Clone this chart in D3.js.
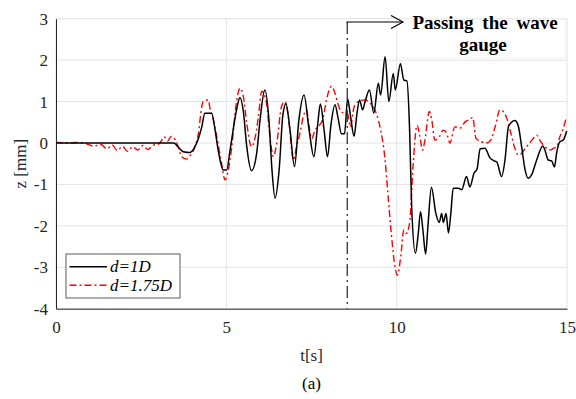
<!DOCTYPE html>
<html>
<head>
<meta charset="utf-8">
<script src="https://cdn.jsdelivr.net/npm/d3@7"></script>
<style>
  html, body { margin: 0; padding: 0; background: #fff; }
  svg { display: block; font-family: "Liberation Serif", "Times New Roman", serif; }
</style>
</head>
<body>
<svg id="chart" width="576" height="399"></svg>
<script>
// Surface elevation z [mm] against time t [s] for two gauge distances.
const xTicks = [0, 5, 10, 15];
const yTicks = [-4, -3, -2, -1, 0, 1, 2, 3];
const seriesNames = ["d=1D", "d=1.75D"];
const gaugeTime = 8.55;
const annotationLines = ["Passing the wave", "gauge"];

// d = 1D (black solid)
const t1D = [0, 1, 2, 3, 3.46, 3.58, 3.74, 3.93, 4.05, 4.18, 4.28, 4.37, 4.57, 4.67, 4.76, 4.91, 5.01, 5.11, 5.30, 5.40, 5.50, 5.60, 5.74, 5.89, 5.99, 6.13, 6.25, 6.34, 6.43, 6.55, 6.66, 6.75, 6.87, 7.00, 7.13, 7.28, 7.43, 7.57, 7.68, 7.76, 7.87, 7.97, 8.07, 8.19, 8.28, 8.38, 8.47, 8.56, 8.64, 8.75, 8.83, 8.91, 9.00, 9.07, 9.20, 9.33, 9.46, 9.53, 9.66, 9.77, 9.90, 9.96, 10.11, 10.21, 10.30, 10.38, 10.44, 10.55, 10.63, 10.70, 10.77, 10.85, 10.92, 11.02, 11.15, 11.25, 11.32, 11.37, 11.45, 11.52, 11.59, 11.66, 11.81, 11.91, 12.05, 12.15, 12.27, 12.36, 12.45, 12.59, 12.74, 12.86, 12.94, 13.08, 13.18, 13.28, 13.35, 13.47, 13.57, 13.67, 13.77, 13.86, 13.96, 14.11, 14.29, 14.35, 14.45, 14.55, 14.63, 14.70, 14.79, 14.89, 14.99];
const z1D = [0, 0, 0, 0, 0, -0.09, -0.21, -0.23, -0.13, 0.11, 0.39, 0.72, 0.72, 0.31, -0.17, -0.65, -0.65, -0.17, 0.80, 1.10, 0.76, -0.09, -0.67, -0.25, 0.56, 1.28, 0.56, -0.65, -1.33, -0.65, 0.68, 0.95, 0.31, -0.57, 0.56, 1.16, 0.31, -0.33, 0.43, 0.94, 0.31, -0.33, 0.43, 0.92, 0.60, 0.22, 0.22, 1.07, 0.68, 0.16, 0.68, 1.04, 0.80, 0.99, 1.28, 0.72, 1.44, 1.16, 2.08, 1.00, 1.68, 1.28, 1.91, 1.52, 1.50, 0.31, -1.54, -2.66, -2.22, -1.66, -2.10, -2.68, -1.98, -1.07, -1.70, -1.92, -1.70, -1.92, -1.70, -2.17, -1.70, -1.09, -1.09, -1.13, -0.81, -1.06, -0.73, -0.63, -0.14, -0.13, -0.36, -0.43, -0.46, -0.81, -0.41, 0.39, 0.48, 0.54, 0.41, -0.10, -0.65, -0.85, -0.77, -0.41, -0.07, -0.17, -0.41, -0.43, -0.58, -0.22, 0.03, 0.07, 0.29];

// d = 1.75D (red dash-dot)
const t175D = [0, 0.3, 0.6, 0.9, 1.1, 1.3, 1.5, 1.65, 1.8, 1.95, 2.1, 2.25, 2.4, 2.55, 2.7, 2.85, 3.0, 3.1, 3.18, 3.28, 3.38, 3.5, 3.57, 3.69, 3.84, 3.93, 4.08, 4.18, 4.28, 4.32, 4.47, 4.52, 4.62, 4.72, 4.86, 4.96, 5.06, 5.16, 5.28, 5.40, 5.50, 5.60, 5.74, 5.84, 5.94, 6.04, 6.18, 6.28, 6.38, 6.48, 6.62, 6.72, 6.82, 6.97, 7.06, 7.16, 7.26, 7.36, 7.41, 7.51, 7.60, 7.70, 7.85, 7.94, 8.09, 8.19, 8.27, 8.37, 8.46, 8.56, 8.64, 8.75, 8.87, 9.07, 9.22, 9.36, 9.51, 9.66, 9.75, 9.85, 9.95, 10.02, 10.12, 10.21, 10.29, 10.39, 10.48, 10.60, 10.68, 10.76, 10.83, 10.96, 11.03, 11.12, 11.25, 11.37, 11.47, 11.56, 11.71, 11.86, 12.01, 12.15, 12.23, 12.33, 12.49, 12.64, 12.76, 12.89, 13.03, 13.13, 13.23, 13.33, 13.47, 13.57, 13.67, 13.77, 13.86, 14.01, 14.11, 14.20, 14.35, 14.50, 14.60, 14.70, 14.79, 14.89, 14.97];
const z175D = [0.02, 0.0, 0.01, -0.02, -0.08, -0.03, -0.14, -0.05, -0.18, -0.08, -0.20, -0.09, -0.17, -0.06, -0.16, -0.05, -0.03, 0.06, 0.15, 0.05, 0.16, 0.08, -0.05, -0.33, -0.39, -0.31, -0.09, 0.23, 0.88, 1.00, 1.04, 0.84, 0.55, 0.15, -0.49, -0.89, -0.65, -0.09, 0.88, 1.32, 1.12, 0.47, -0.09, 0.11, 0.63, 1.25, 0.96, 0.15, -0.33, -0.01, 0.88, 1.00, 0.64, -0.41, -0.09, 0.23, 0.64, 0.80, 0.51, 0.11, 0.31, 0.39, 0.64, 1.04, 1.37, 1.20, 0.96, 0.76, 0.72, 0.70, 0.39, 0.87, 1.00, 1.04, 0.96, 0.80, 0.39, -0.41, -1.29, -2.25, -2.99, -3.19, -2.74, -2.10, -2.18, -1.86, -0.57, 0.43, 0.16, -0.17, 0.07, 0.76, 0.56, 0.07, 0.15, 0.31, 0.23, 0.00, 0.39, 0.36, 0.51, 0.57, 0.62, 0.11, 0.03, 0.00, 0.07, 0.39, 0.80, 0.76, 0.60, 0.31, -0.13, -0.29, -0.25, -0.13, -0.05, 0.11, 0.19, 0.07, -0.09, -0.17, -0.13, -0.09, 0.15, 0.35, 0.59];

const svg = d3.select("#chart");
const margin = { left: 56, right: 9, top: 18.7, bottom: 90.3 };
const W = 576, H = 399;
const x = d3.scaleLinear().domain([0, 15]).range([margin.left, W - margin.right]);
const y = d3.scaleLinear().domain([-4, 3]).range([H - margin.bottom, margin.top]);

// grid
const grid = svg.append("g").attr("stroke", "#e3e3e3").attr("stroke-width", 1);
grid.selectAll(".gx").data(xTicks).join("line")
  .attr("x1", d => x(d)).attr("x2", d => x(d))
  .attr("y1", y(-4)).attr("y2", y(3));
grid.selectAll(".gy").data(yTicks).join("line")
  .attr("x1", x(0)).attr("x2", x(15))
  .attr("y1", d => y(d)).attr("y2", d => y(d));

// axes (plain hyphen for negative labels)
const fmt = d => String(d);
const xAxis = d3.axisBottom(x).tickValues(xTicks).tickSize(0).tickPadding(12).tickFormat(fmt);
const yAxis = d3.axisLeft(y).tickValues(yTicks).tickSize(0).tickPadding(8).tickFormat(fmt);
const gx = svg.append("g").attr("transform", `translate(0,${y(-4)})`).call(xAxis);
const gy = svg.append("g").attr("transform", `translate(${x(0)},0)`).call(yAxis);
[gx, gy].forEach(g => {
  g.select(".domain").attr("stroke", "#262626").attr("stroke-width", 1);
  g.selectAll("text").attr("font-family", "Liberation Serif, serif").attr("font-size", 17).attr("fill", "#262626");
});

// data lines
const lineGen = d3.line().x(d => x(d[0])).y(d => y(d[1])).curve(d3.curveMonotoneX);
const data1 = t1D.map((t, i) => [t, z1D[i]]);
const data2 = t175D.map((t, i) => [t, z175D[i]]);

const plot = svg.append("g");
plot.append("path").datum(data2).attr("d", lineGen)
  .attr("fill", "none").attr("stroke", "#ff0000").attr("stroke-width", 1.4)
  .attr("stroke-dasharray", "7,3,2,3");
plot.append("path").datum(data1).attr("d", lineGen)
  .attr("fill", "none").attr("stroke", "#000").attr("stroke-width", 1.5);

// gauge marker and annotation
const annY = 22;
svg.append("line")
  .attr("x1", x(gaugeTime)).attr("x2", x(gaugeTime))
  .attr("y1", annY).attr("y2", y(-4))
  .attr("stroke", "#333").attr("stroke-width", 1.3)
  .attr("stroke-dasharray", "12,4,2,4");

svg.append("rect").attr("x", 397).attr("y", 19).attr("width", 169).attr("height", 39)
  .attr("fill", "#fff").attr("stroke", "#f0f0f0").attr("stroke-width", 1);

svg.append("line").attr("x1", x(gaugeTime) - 1).attr("x2", 403).attr("y1", annY).attr("y2", annY)
  .attr("stroke", "#000").attr("stroke-width", 1.1);
svg.append("path").attr("d", `M391,15.5 L403,${annY} L391,28.5`)
  .attr("fill", "none").attr("stroke", "#000").attr("stroke-width", 1.1);

const ann = svg.append("text").attr("font-family", "Liberation Serif, serif")
  .attr("font-weight", "bold").attr("font-size", 19).attr("fill", "#000")
  .attr("text-anchor", "middle");
ann.append("tspan").attr("x", 485).attr("y", 29).attr("word-spacing", 4).text(annotationLines[0]);
ann.append("tspan").attr("x", 483).attr("y", 51).text(annotationLines[1]);

// axis titles
svg.append("text").attr("x", (x(0) + x(15)) / 2).attr("y", 361)
  .attr("text-anchor", "middle").attr("font-size", 17).attr("fill", "#262626").text("t[s]");
svg.append("text").attr("transform", `translate(26,${y(-0.5)}) rotate(-90)`)
  .attr("text-anchor", "middle").attr("font-size", 17).attr("fill", "#262626").text("z [mm]");
svg.append("text").attr("x", (x(0) + x(15)) / 2).attr("y", 389)
  .attr("text-anchor", "middle").attr("font-size", 17).attr("fill", "#000").text("(a)");

// legend
const lg = svg.append("g");
lg.append("rect").attr("x", 66).attr("y", 254).attr("width", 114).attr("height", 44)
  .attr("fill", "#fff").attr("stroke", "#333").attr("stroke-width", 0.8);
const legendStyles = [
  { stroke: "#000", dash: null, w: 1.5 },
  { stroke: "#ff0000", dash: "7,3,2,3", w: 1.4 }
];
seriesNames.forEach((name, i) => {
  const cy = 266.7 + i * 18.5;
  lg.append("line").attr("x1", 69.5).attr("x2", 107).attr("y1", cy).attr("y2", cy)
    .attr("stroke", legendStyles[i].stroke).attr("stroke-width", legendStyles[i].w)
    .attr("stroke-dasharray", legendStyles[i].dash);
  lg.append("text").attr("x", 110).attr("y", cy + 5.5)
    .attr("font-style", "italic").attr("font-size", 17).attr("fill", "#000").text(name);
});
</script>
</body>
</html>
